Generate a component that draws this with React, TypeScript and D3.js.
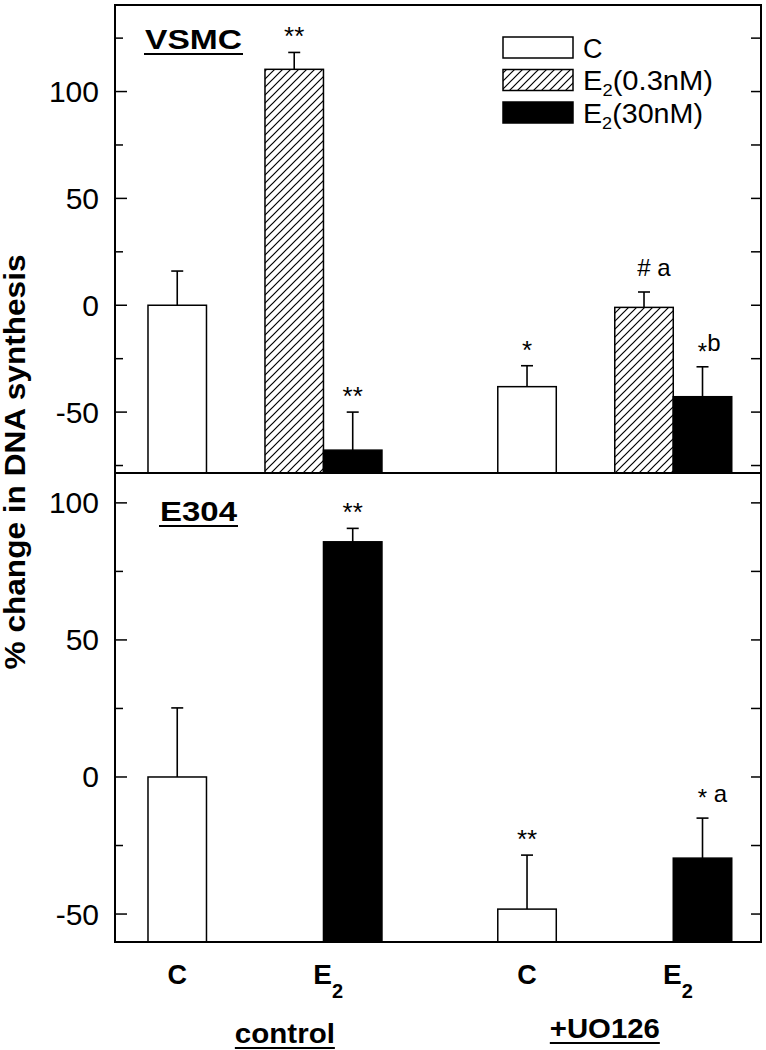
import { useEffect, useRef } from 'react'
import * as d3 from 'd3'

// bar order: control C, control E2(0.3nM), control E2(30nM), UO126 C, UO126 E2(0.3nM), UO126 E2(30nM)
const groups = ['control', '+UO126']
const treatments = ['C', 'E2(0.3nM)', 'E2(30nM)']
const vsmcMean = [0, 110.4, -67.8, -38.1, -1, -42.8]
const vsmcErr = [16, 7.9, 17.8, 9.8, 7.2, 14]
const vsmcMarks = ['', '**', '**', '*', '# a', '*b']
const e304Mean = [0, null, 85.8, -48.2, null, -29.6]
const e304Err = [25.2, null, 4.9, 19.7, null, 14.6]
const e304Marks = ['', '', '**', '**', '', '* a']
const majorTicks = [-50, 0, 50, 100]
const topMinor = [-75, -25, 25, 75, 125]
const bottomMinor = [-25, 25, 75]

const FONT = 'Liberation Sans, Arial, Helvetica, sans-serif'
const W = 766
const H = 1050

export default function App() {
  const ref = useRef<SVGSVGElement>(null)

  useEffect(() => {
    const svg = d3.select(ref.current)
    svg.selectAll('*').remove()
    svg.attr('viewBox', `0 0 ${W} ${H}`).style('font-family', FONT)

    const left = 115, right = 761, top = 5, mid = 473, bottom = 942
    const x = d3.scaleLinear().domain([-0.564, 10.48]).range([left, right])
    const yTop = d3.scaleLinear().domain([-78.5, 140.5]).range([mid, top])
    const yBot = d3.scaleLinear().domain([-60.2, 110.9]).range([bottom, mid])
    const groupSlot = [0, 5.98]
    const treatSlot = [0, 2, 3]
    const slotOf = (i: number) => groupSlot[Math.floor(i / 3)] + treatSlot[i % 3]
    const fills = ['#fff', 'url(#hatch)', '#000']

    const defs = svg.append('defs')
    const pat = defs.append('pattern')
      .attr('id', 'hatch').attr('patternUnits', 'userSpaceOnUse')
      .attr('width', 8).attr('height', 8)
    pat.append('rect').attr('width', 8).attr('height', 8).attr('fill', '#fff')
    pat.append('path').attr('d', 'M-2,2 l4,-4 M0,8 l8,-8 M6,10 l4,-4')
      .attr('stroke', '#000').attr('stroke-width', 1.2)

    const drawPanel = (y: d3.ScaleLinear<number, number>, base: number, means: (number | null)[], errs: (number | null)[], marks: string[], minor: number[]) => {
      const g = svg.append('g')
      means.forEach((v, i) => {
        if (v == null) return
        const x0 = x(slotOf(i)), x1 = x(slotOf(i) + 1)
        const cx = (x0 + x1) / 2
        const yv = y(v)
        g.append('rect').attr('x', x0).attr('y', yv).attr('width', x1 - x0).attr('height', base - yv)
          .attr('fill', fills[i % 3]).attr('stroke', '#000').attr('stroke-width', 1.5)
        const cap = y(v + (errs[i] as number))
        g.append('line').attr('x1', cx).attr('x2', cx).attr('y1', yv).attr('y2', cap)
          .attr('stroke', '#000').attr('stroke-width', 1.6)
        g.append('line').attr('x1', cx - 6).attr('x2', cx + 6).attr('y1', cap).attr('y2', cap)
          .attr('stroke', '#000').attr('stroke-width', 1.6)
        const m = marks[i]
        if (!m) return
        if (/^\*+$/.test(m)) {
          g.append('text').attr('x', cx).attr('y', cap - 7).attr('text-anchor', 'middle')
            .style('font-size', '26px').text(m)
        } else {
          const t = g.append('text').attr('y', cap - 16).attr('text-anchor', 'start')
          const firstW = m[0] === '*' ? 0.389 * 24 : 0.556 * 24
          t.attr('x', cx - firstW / 2)
          let shift = 0
          m.split('').forEach((ch, k) => {
            let want = 0
            if (ch === '*') want = m[k + 1] && m[k + 1] !== ' ' ? 9 : 4
            t.append('tspan').style('font-size', '24px').attr('dy', want - shift).text(ch)
            shift = want
          })
        }
      })
      // ticks, pointing inward on both sides
      const tk = (vals: number[], len: number) => vals.forEach(v => {
        g.append('line').attr('x1', left).attr('x2', left + len).attr('y1', y(v)).attr('y2', y(v))
          .attr('stroke', '#000').attr('stroke-width', 1.5)
        g.append('line').attr('x1', right - 10).attr('x2', right).attr('y1', y(v)).attr('y2', y(v))
          .attr('stroke', '#000').attr('stroke-width', 1.5)
      })
      tk(majorTicks, 12)
      tk(minor, 8)
      majorTicks.forEach(v => {
        g.append('text').attr('x', 99).attr('y', y(v) + 10.5).attr('text-anchor', 'end')
          .style('font-size', '30px').text(v)
      })
    }

    drawPanel(yTop, mid, vsmcMean, vsmcErr, vsmcMarks, topMinor)
    drawPanel(yBot, bottom, e304Mean, e304Err, e304Marks, bottomMinor)

    // frame
    svg.append('rect').attr('x', left).attr('y', top).attr('width', right - left).attr('height', bottom - top)
      .attr('fill', 'none').attr('stroke', '#000').attr('stroke-width', 2)
    svg.append('line').attr('x1', left).attr('x2', right).attr('y1', mid).attr('y2', mid)
      .attr('stroke', '#000').attr('stroke-width', 2)

    // panel titles
    const title = (txt: string, x0: number, yb: number, len: number) => {
      svg.append('text').attr('x', x0).attr('y', yb).style('font-size', '27px').style('font-weight', 'bold')
        .attr('textLength', len).attr('lengthAdjust', 'spacingAndGlyphs').text(txt)
      svg.append('line').attr('x1', x0 - 1).attr('x2', x0 + len + 1).attr('y1', yb + 5).attr('y2', yb + 5)
        .attr('stroke', '#000').attr('stroke-width', 2)
    }
    title('VSMC', 145, 49, 97)
    title('E304', 160, 521, 77)

    // legend
    const legLen = [17, 130, 120]
    treatments.forEach((name, i) => {
      const yb = 37 + i * 32.5
      svg.append('rect').attr('x', 503).attr('y', yb).attr('width', 70).attr('height', 21)
        .attr('fill', fills[i]).attr('stroke', '#000').attr('stroke-width', 1.5)
      const t = svg.append('text').attr('x', 583).attr('y', yb + 20.5).style('font-size', '27px')
      if (name.startsWith('E2')) {
        t.attr('textLength', legLen[i]).attr('lengthAdjust', 'spacingAndGlyphs')
        t.append('tspan').text('E')
        t.append('tspan').attr('dy', 6).style('font-size', '17px').text('2')
        t.append('tspan').attr('dy', -6).text(name.slice(2))
      } else {
        t.text(name)
      }
    })

    // x category labels
    const catOffset = [0.5, 3.08]
    const groupLabelSlot = [2.34, 7.81]
    const groupLabelLen = [100, 110]
    const groupLabelY = [1043, 1038]
    groups.forEach((gname, gi) => {
      ;['C', 'E2'].forEach((c, ci) => {
        const t = svg.append('text').attr('x', x(groupSlot[gi] + catOffset[ci])).attr('y', 984)
          .attr('text-anchor', 'middle').style('font-weight', 'bold')
        if (c === 'C') {
          t.style('font-size', '27px').text('C')
        } else {
          t.append('tspan').style('font-size', '28px').text('E')
          t.append('tspan').attr('dy', 14).style('font-size', '20px').text('2')
        }
      })
      const cx = x(groupLabelSlot[gi])
      const len = groupLabelLen[gi]
      svg.append('text').attr('x', cx - len / 2).attr('y', groupLabelY[gi])
        .style('font-size', '28px').style('font-weight', 'bold')
        .attr('textLength', len).attr('lengthAdjust', 'spacingAndGlyphs').text(gname)
      svg.append('line').attr('x1', cx - len / 2).attr('x2', cx + len / 2)
        .attr('y1', groupLabelY[gi] + 5).attr('y2', groupLabelY[gi] + 5)
        .attr('stroke', '#000').attr('stroke-width', 2)
    })

    // y axis title
    svg.append('text').attr('transform', 'translate(25,462) rotate(-90)')
      .attr('text-anchor', 'middle').style('font-size', '29px').style('font-weight', 'bold')
      .attr('textLength', 415).attr('lengthAdjust', 'spacingAndGlyphs')
      .text('% change in DNA synthesis')
  }, [])

  return <svg ref={ref} width={W} height={H} style={{ position: 'absolute', left: 0, top: 0, background: '#fff' }} />
}
